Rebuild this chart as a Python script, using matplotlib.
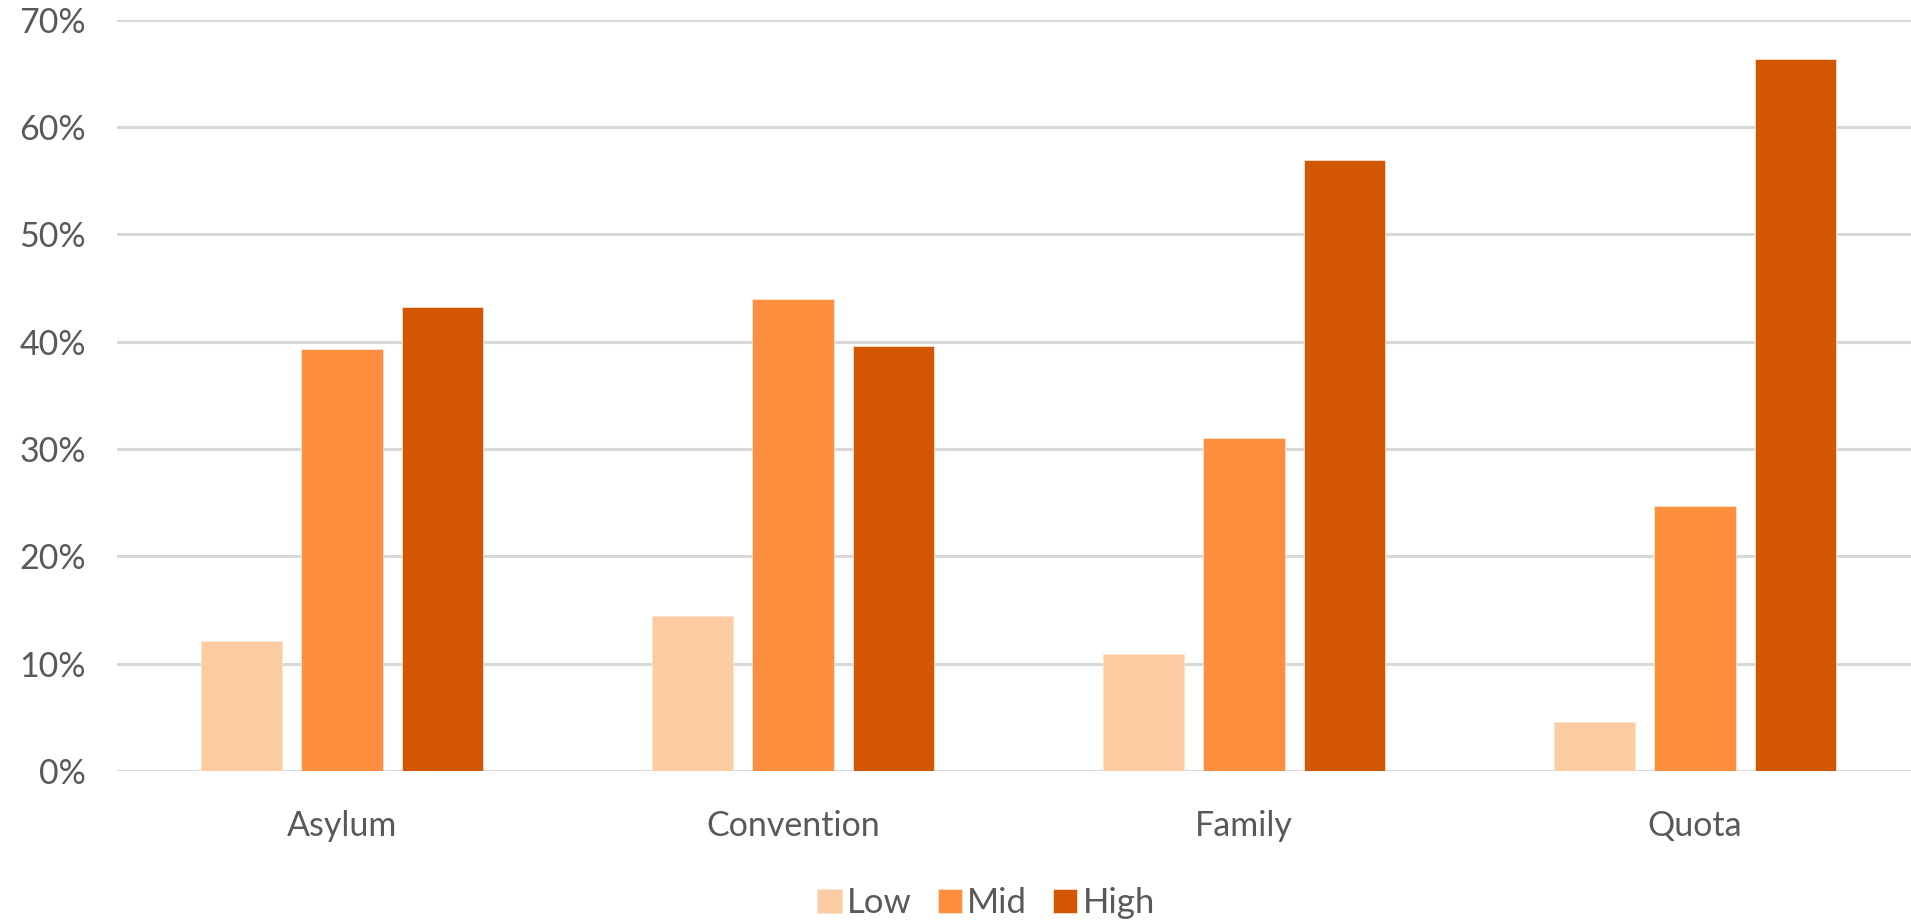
import matplotlib
matplotlib.use("Agg")
import matplotlib.pyplot as plt
import numpy as np

# data
categories = ["Asylum", "Convention", "Family", "Quota"]
series_names = ["Low", "Mid", "High"]
low = [12.1, 14.4, 10.9, 4.6]
mid = [39.3, 44.0, 31.0, 24.7]
high = [43.2, 39.6, 56.9, 66.3]
yticks = [0, 10, 20, 30, 40, 50, 60, 70]

colors = ["#FDCBA2", "#FF8F3E", "#D35703"]
text_col = "#595959"
grid_col = "#D9D9D9"

plt.rcParams['font.family'] = ['Lato', 'DejaVu Sans']

fig = plt.figure(figsize=(19.11, 9.23), dpi=100)
# plot area runs a little past the right edge of the figure
ax = fig.add_axes([116.5 / 1911, 1 - 771 / 923, 1804 / 1911, (771 - 19.5) / 923])

x = np.arange(len(categories))
w = 0.18
step = 0.222
for i, (vals, name) in enumerate(zip([low, mid, high], series_names)):
    ax.bar(x + (i - 1) * step, np.array(vals) / 100, width=w, color=colors[i],
           label=name, zorder=3, edgecolor="#FBE3D0", linewidth=0.6)

ax.set_xlim(-0.5, len(categories) - 0.5)
ax.set_ylim(0, 0.7)
ax.set_yticks([v / 100 for v in yticks])
ax.set_yticklabels([f"{v}%" for v in yticks])
ax.set_xticks(x)
ax.set_xticklabels(categories)

ax.yaxis.grid(True, color=grid_col, linewidth=2.2, zorder=0)
ax.set_axisbelow(True)
for s in ax.spines.values():
    s.set_visible(False)
ax.tick_params(axis="both", length=0, labelsize=24.5, colors=text_col)
ax.tick_params(axis="y", pad=22)
ax.tick_params(axis="x", pad=28)

leg = fig.legend(loc="lower center", bbox_to_anchor=(0.516, -0.03), ncol=3,
                 frameon=False, fontsize=25, handlelength=0.7, handleheight=0.7,
                 handletextpad=0.15, columnspacing=0.75)
for t in leg.get_texts():
    t.set_color(text_col)

fig.savefig("out.png", dpi=100)
